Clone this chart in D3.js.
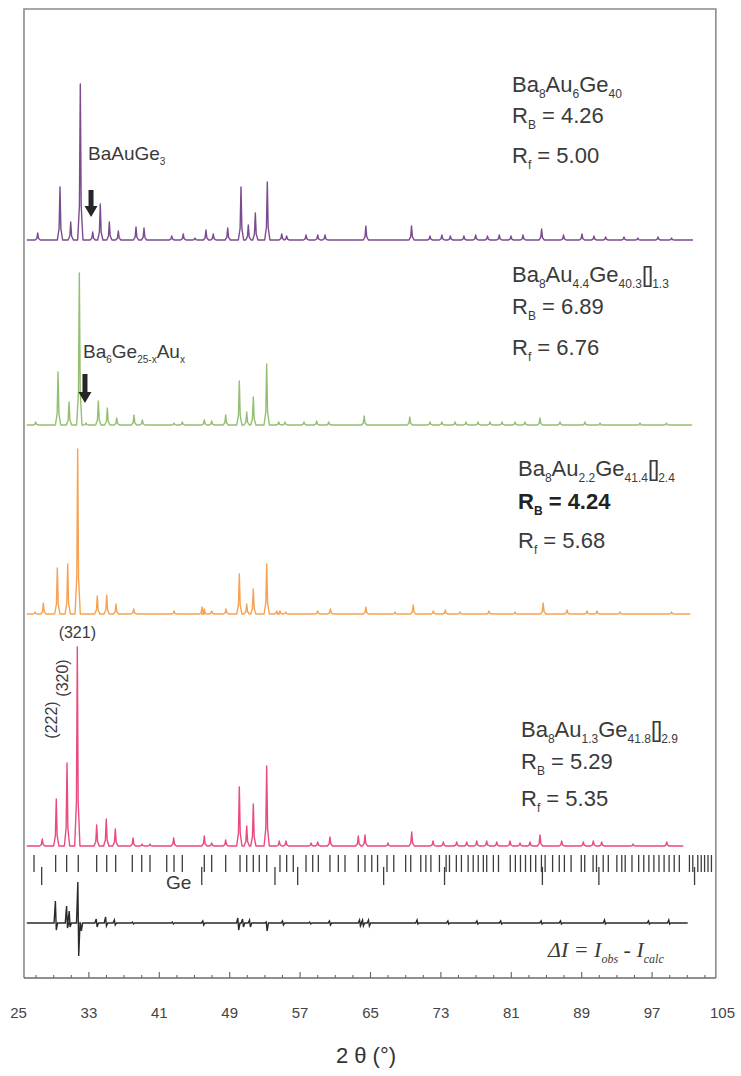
<!DOCTYPE html>
<html>
<head>
<meta charset="utf-8">
<script src="https://cdn.jsdelivr.net/npm/d3@7"></script>
<style>
  body { margin: 0; background: #fff; }
  svg { display: block; font-family: "Liberation Sans", Arial, sans-serif; }
</style>
</head>
<body>
<svg id="svg"></svg>
<script>
// data (2theta in degrees, intensity in arbitrary units)

let xTicks = [25, 33, 41, 49, 57, 65, 73, 81, 89, 97, 105];

// Ba8Au6Ge40
let purplePos = [27.24, 29.77, 30.99, 32.08, 33.49, 34.35, 35.38, 36.40, 38.41, 39.32, 42.47, 43.78, 45.11, 46.36, 47.19, 48.83, 50.34, 51.17, 51.97, 53.33, 54.97, 55.53, 57.73, 59.06, 59.89, 64.53, 69.72, 71.82, 73.17, 74.13, 75.67, 77.01, 78.35, 79.69, 81.02, 82.39, 84.50, 86.99, 89.09, 90.45, 91.78, 93.86, 95.43, 97.73, 99.27];
let purpleInt = [7, 53, 18, 156, 8, 36, 18, 9, 13, 12, 4, 6, 2, 10, 6, 12, 53, 15, 27, 58, 6, 4, 5, 5, 5, 14, 14, 4, 5, 4, 4, 5, 4, 5, 4, 5, 11, 5, 6, 4, 3, 3, 2, 3, 2];

// Ba8Au4.4Ge40.3[]1.3
let greenPos = [27.01, 29.55, 30.80, 31.97, 32.73, 34.13, 35.15, 36.22, 38.18, 39.13, 42.73, 43.67, 46.17, 47.01, 48.60, 50.15, 50.99, 51.74, 53.26, 54.63, 55.34, 57.50, 58.94, 60.31, 64.34, 69.52, 71.82, 73.17, 74.66, 75.91, 77.27, 78.64, 80.00, 81.48, 82.61, 84.31, 86.59, 89.43, 91.14, 95.68, 98.69];
let greenInt = [3, 53, 23, 152, 2, 24, 17, 7, 10, 5, 2, 3, 5, 4, 10, 44, 13, 28, 61, 3, 3, 3, 4, 3, 9, 8, 3, 3, 3, 3, 3, 3, 3, 3, 3, 7, 3, 3, 2, 2, 2];

// Ba8Au2.2Ge41.4[]2.4
let orangePos = [26.93, 27.88, 29.47, 30.65, 31.78, 34.01, 35.08, 36.14, 38.15, 42.73, 45.91, 46.17, 47.01, 48.64, 50.15, 50.99, 51.74, 53.26, 54.40, 54.77, 55.42, 59.06, 60.50, 64.53, 67.84, 69.91, 72.20, 73.56, 75.23, 78.52, 81.48, 84.68, 87.39, 89.66, 90.80, 93.41, 99.27];
let orangeInt = [2, 11, 46, 50, 165, 18, 19, 10, 5, 3, 7, 5, 3, 5, 40, 10, 25, 50, 3, 3, 2, 3, 5, 7, 2, 9, 3, 4, 2, 3, 2, 11, 4, 3, 3, 2, 2];

// Ba8Au1.3Ge41.8[]2.9
let pinkPos = [27.76, 29.35, 30.57, 31.74, 33.94, 35.03, 36.06, 38.07, 39.09, 40.00, 42.69, 46.17, 47.01, 48.60, 50.15, 50.99, 51.74, 53.26, 54.69, 55.45, 58.30, 59.06, 60.45, 63.67, 64.43, 67.05, 69.74, 72.16, 73.33, 74.85, 75.99, 77.13, 78.26, 79.40, 80.91, 82.05, 83.18, 84.32, 86.78, 89.24, 90.38, 91.33, 94.89, 98.72];
let pinkInt = [7, 47, 83, 199, 21, 27, 17, 8, 2, 2, 8, 10, 3, 6, 59, 20, 42, 80, 5, 5, 3, 4, 9, 10, 11, 3, 14, 5, 4, 4, 4, 5, 5, 4, 5, 3, 4, 11, 5, 4, 5, 4, 2, 4];

// difference curve Iobs - Icalc
let diffPos = [29.30, 30.57, 30.87, 31.85, 32.15, 33.94, 35.0, 36.0, 38.07, 42.6, 46.05, 50.03, 50.57, 51.36, 53.26, 55.11, 58.2, 60.45, 63.86, 64.2, 64.88, 70.4, 73.9, 77.2, 79.9, 84.5, 86.7, 91.7, 96.7, 99.0];
let diffUp = [22, 17, 12, 41, 0, 4, 6, 3, 1, 1, 2, 5, 4, 3, 1, 2, 1, 2, 3, 3, 3, 3, 2, 2, 2, 2, 2, 3, 2, 3];
let diffDown = [7, 5, 4, 33, 8, 4, 3, 2, 1, 1, 2, 7, 4, 4, 8, 2, 1, 2, 3, 3, 3, 1, 1, 1, 1, 1, 1, 1, 1, 1];

// Bragg reflection positions
let clathrateRefl = [26.82, 29.28, 30.53, 31.85, 33.94, 35.08, 36.10, 37.99, 39.06, 40.00, 41.90, 42.73, 43.67, 46.17, 47.01, 48.60, 50.23, 50.99, 51.74, 52.42, 53.26, 54.77, 55.53, 56.28, 57.73, 58.49, 59.13, 60.45, 61.40, 62.16, 63.67, 64.43, 65.20, 65.86, 66.93, 67.70, 69.05, 69.63, 70.77, 71.35, 71.92, 72.89, 73.65, 74.03, 74.81, 75.39, 76.15, 76.73, 77.30, 77.88, 78.26, 79.02, 79.60, 80.94, 81.52, 82.10, 82.67, 83.25, 83.83, 84.48, 84.90, 85.75, 86.51, 87.09, 87.85, 89.01, 89.40, 90.35, 90.74, 91.50, 92.08, 93.05, 93.61, 94.00, 94.77, 95.53, 96.11, 96.69, 97.26, 97.84, 98.42, 98.99, 99.57, 100.15, 101.30, 101.68, 102.25, 102.64, 103.02, 103.41, 103.80];
let geRefl = [27.69, 45.88, 54.20, 56.78, 66.55, 73.47, 84.59, 91.01, 101.88];

// pattern baselines (a.u.)
let offsets = { purple: 738, green: 553, orange: 364, pink: 132, diff: 55 };

let svg = d3.select("#svg");
let width = 741;
let height = 1076;
let xScale, yScale;

let makeBackground = () => {
  svg.attr("width", width).attr("height", height);
}

let scaleFunction = () => {
  xScale = d3.scaleLinear().domain([25, 105]).range([18, 722]);
  yScale = d3.scaleLinear().domain([0, 968]).range([978, 10]);
}

let line = d3.line()
  .x((d) => xScale(d[0]))
  .y((d) => yScale(d[1]));

let profile = (pos, inten, start, end, base) => {
  let pts = [[start, base]];
  pos.forEach((p, i) => {
    let h = inten[i];
    pts.push([p - 0.3, base], [p - 0.1, base + h * 0.22], [p, base + h], [p + 0.1, base + h * 0.22], [p + 0.3, base]);
  });
  pts.push([end, base]);
  return pts;
}

let makeFrame = () => {
  svg.append("path")
    .attr("d", "M" + xScale(25.68) + "," + yScale(0) + "V" + yScale(969) + "H" + xScale(104.3) + "V" + yScale(0))
    .attr("fill", "none")
    .attr("stroke", "#8c8c8c")
    .attr("stroke-width", 1.6);
  svg.append("line")
    .attr("x1", xScale(25.68)).attr("x2", xScale(104.3))
    .attr("y1", yScale(0)).attr("y2", yScale(0))
    .attr("stroke", "#6b6b6b")
    .attr("stroke-width", 1.6);
}

let makeAxes = () => {
  let xAxis = d3.axisBottom(xScale)
    .tickValues(xTicks)
    .tickSize(-6)
    .tickPadding(29)
    .tickFormat(d3.format("d"));
  let g = svg.append("g")
    .attr("transform", "translate(0," + yScale(0) + ")")
    .call(xAxis);
  g.select(".domain").remove();
  g.selectAll(".tick line")
    .attr("stroke", "#6b6b6b")
    .attr("stroke-width", 1.2)
    .attr("opacity", (d) => (d === 25 || d === 105) ? 0 : 1);
  g.selectAll(".tick text")
    .attr("font-size", 15)
    .attr("font-family", "Liberation Sans, Arial, sans-serif")
    .attr("fill", "#444");

  let minor = d3.range(27, 105, 2).filter((v) => (v - 25) % 8 !== 0);
  let mAxis = d3.axisBottom(xScale).tickValues(minor).tickSize(-3).tickFormat("");
  let m = svg.append("g")
    .attr("transform", "translate(0," + yScale(0) + ")")
    .call(mAxis);
  m.select(".domain").remove();
  m.selectAll(".tick line").attr("stroke", "#6b6b6b").attr("stroke-width", 1.1);

  svg.append("text")
    .attr("x", 366)
    .attr("y", 1063)
    .attr("text-anchor", "middle")
    .attr("font-size", 22)
    .attr("fill", "#333")
    .text("2 θ (°)");
}

let makeGraph = () => {
  let series = [
    { pos: purplePos, int: purpleInt, base: offsets.purple, end: 101.7, color: "#7b4b8f" },
    { pos: greenPos, int: greenInt, base: offsets.green, end: 101.6, color: "#93bf72" },
    { pos: orangePos, int: orangeInt, base: offsets.orange, end: 101.4, color: "#f8a251" },
    { pos: pinkPos, int: pinkInt, base: offsets.pink, end: 100.6, color: "#e94a7f" }
  ];
  series.forEach((s) => {
    svg.append("path")
      .attr("d", line(profile(s.pos, s.int, 26.0, s.end, s.base)))
      .attr("fill", "none")
      .attr("stroke", s.color)
      .attr("stroke-width", 1.4)
      .attr("stroke-linejoin", "round");
  });

  // difference curve
  let dpts = [[26.0, offsets.diff]];
  diffPos.forEach((p, i) => {
    dpts.push([p - 0.2, offsets.diff], [p - 0.05, offsets.diff + diffUp[i]], [p + 0.05, offsets.diff - diffDown[i]], [p + 0.2, offsets.diff]);
  });
  dpts.push([101.1, offsets.diff]);
  svg.append("path")
    .attr("d", line(dpts))
    .attr("fill", "none")
    .attr("stroke", "#2a2a2a")
    .attr("stroke-width", 1.4);

  // reflection markers
  svg.append("g").selectAll("line")
    .data(clathrateRefl)
    .enter()
    .append("line")
    .attr("x1", (d) => xScale(d)).attr("x2", (d) => xScale(d))
    .attr("y1", yScale(123)).attr("y2", yScale(106))
    .attr("stroke", "#3d3d3d")
    .attr("stroke-width", 1.3);
  svg.append("g").selectAll("line")
    .data(geRefl)
    .enter()
    .append("line")
    .attr("x1", (d) => xScale(d)).attr("x2", (d) => xScale(d))
    .attr("y1", yScale(111)).attr("y2", yScale(93))
    .attr("stroke", "#3d3d3d")
    .attr("stroke-width", 1.3);
}

// text with subscripts
let richText = (x, y, parts, size, opts) => {
  opts = opts || {};
  let sub = Math.round(size * 0.55);
  let shift = Math.round(size * 0.27);
  let t = svg.append("text")
    .attr("x", x)
    .attr("y", y)
    .attr("font-size", size)
    .attr("fill", opts.fill || "#3a3a3a")
    .attr("font-weight", opts.bold ? "bold" : "normal")
    .attr("font-style", opts.italic ? "italic" : "normal")
    .attr("font-family", opts.family || "Liberation Sans, Arial, sans-serif");
  let lowered = false;
  parts.forEach((p) => {
    let ts = t.append("tspan").text(p[0]);
    if (p[1]) {
      ts.attr("font-size", sub);
      if (!lowered) { ts.attr("dy", shift); lowered = true; }
    } else {
      if (lowered) { ts.attr("dy", -shift); lowered = false; }
    }
    if (p[0] === "[]") ts.attr("letter-spacing", -1);
  });
  return t;
}

let makeLabels = () => {
  let blocks = [
    { x: 512, y: [92, 123, 163], f: [["Ba"], ["8", 1], ["Au"], ["6", 1], ["Ge"], ["40", 1]], rb: "4.26", rf: "5.00" },
    { x: 512, y: [282, 314, 355], f: [["Ba"], ["8", 1], ["Au"], ["4.4", 1], ["Ge"], ["40.3", 1], ["[]"], ["1.3", 1]], rb: "6.89", rf: "6.76" },
    { x: 518, y: [476, 509, 548], f: [["Ba"], ["8", 1], ["Au"], ["2.2", 1], ["Ge"], ["41.4", 1], ["[]"], ["2.4", 1]], rb: "4.24", rf: "5.68", bold: true },
    { x: 521, y: [737, 769, 806], f: [["Ba"], ["8", 1], ["Au"], ["1.3", 1], ["Ge"], ["41.8", 1], ["[]"], ["2.9", 1]], rb: "5.29", rf: "5.35" }
  ];
  blocks.forEach((b) => {
    richText(b.x, b.y[0], b.f, 22);
    richText(b.x, b.y[1], [["R"], ["B", 1], [" = " + b.rb]], 22, { bold: b.bold, fill: b.bold ? "#222" : "#3a3a3a" });
    richText(b.x, b.y[2], [["R"], ["f", 1], [" = " + b.rf]], 22);
  });

  // impurity annotations
  richText(88, 160, [["BaAuGe"], ["3", 1]], 19);
  richText(83, 358, [["Ba"], ["6", 1], ["Ge"], ["25-x", 1], ["Au"], ["x", 1]], 19);

  let arrow = (x2t, u1, u2) => {
    let x = xScale(x2t), y1 = yScale(u1), y2 = yScale(u2);
    svg.append("path")
      .attr("d", "M" + (x - 2.5) + "," + y1 + "H" + (x + 2.5) + "V" + (y2 - 11) + "H" + (x + 6.5) + "L" + x + "," + y2 + "L" + (x - 6.5) + "," + (y2 - 11) + "H" + (x - 2.5) + "Z")
      .attr("fill", "#262626");
  }
  arrow(33.30, 788, 761);
  arrow(32.61, 604, 575);

  // hkl labels
  svg.append("text")
    .attr("x", xScale(31.74)).attr("y", 638)
    .attr("text-anchor", "middle")
    .attr("font-size", 16).attr("fill", "#3a3a3a")
    .text("(321)");
  svg.append("text")
    .attr("transform", "translate(" + (xScale(30.57) + 1) + ",678) rotate(-90)")
    .attr("text-anchor", "middle")
    .attr("font-size", 16).attr("fill", "#3a3a3a")
    .text("(320)");
  svg.append("text")
    .attr("transform", "translate(" + (xScale(29.35) + 1) + ",720) rotate(-90)")
    .attr("text-anchor", "middle")
    .attr("font-size", 16).attr("fill", "#3a3a3a")
    .text("(222)");

  // Ge marker label
  svg.append("text")
    .attr("x", 166).attr("y", 889)
    .attr("font-size", 19).attr("fill", "#3a3a3a")
    .text("Ge");

  // difference label
  richText(548, 957, [["ΔI = I"], ["obs", 1], [" - I"], ["calc", 1]], 22, { italic: true, family: "Liberation Serif, Times New Roman, serif" });
}

makeBackground();
scaleFunction();
makeFrame();
makeGraph();
makeAxes();
makeLabels();
</script>
</body>
</html>
